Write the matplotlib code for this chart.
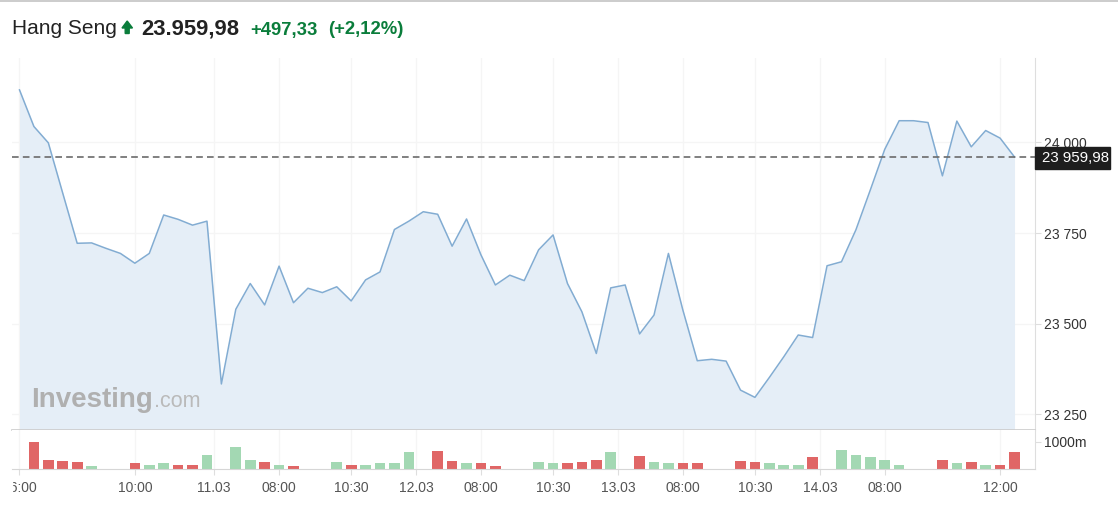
import numpy as np
import matplotlib.pyplot as plt
from matplotlib.patches import Rectangle, Polygon

plt.rcParams['font.family'] = ['Liberation Sans', 'DejaVu Sans']

# Hang Seng, 30-minute closes, 10.03 - 14.03
prices = [24145, 24044, 23999, 23860, 23722, 23723, 23708, 23694, 23667, 23694,
          23800, 23788, 23772, 23783, 23334, 23540, 23611, 23552, 23659, 23558,
          23598, 23586, 23602, 23563, 23621, 23643, 23760, 23783, 23809, 23802,
          23714, 23789, 23690, 23607, 23634, 23619, 23704, 23745, 23611, 23533,
          23418, 23599, 23607, 23472, 23524, 23694, 23538, 23398, 23402, 23397,
          23317, 23297, 23352, 23409, 23469, 23462, 23660, 23671, 23759, 23869,
          23981, 24060, 24060, 24055, 23908, 24059, 23988, 24033, 24012, 23959.98]
# volume in millions
volumes = [0, 995, 332, 295, 258, 111, 0, 0, 209, 147,
           209, 160, 160, 528, 0, 798, 344, 258, 147, 111,
           0, 0, 258, 160, 147, 209, 209, 626, 0, 663,
           307, 209, 209, 111, 0, 0, 258, 209, 209, 258,
           344, 626, 0, 479, 258, 209, 209, 209, 0, 0,
           295, 258, 209, 147, 147, 442, 0, 712, 528, 442,
           344, 160, 0, 0, 344, 209, 258, 147, 160, 626]

tick_pos = [0, 8, 13.5, 18, 23, 27.5, 32, 37, 41.5, 46, 51, 55.5, 60, 68]
tick_labels = ['06:00', '10:00', '11.03', '08:00', '10:30', '12.03', '08:00',
               '10:30', '13.03', '08:00', '10:30', '14.03', '08:00', '12:00']
price_ticks = [23250, 23500, 23750, 24000]
last_price = 23959.98
change = '+497,33'
change_pct = '(+2,12%)'

W, H = 1118, 512


def fx(px):
    return px / W


def fy(py):
    return 1 - py / H


line_c = '#82acd2'
fill_c = '#e5eef7'
red_c = '#e06666'
green_c = '#a3d8b3'
grid_c = '#f5f5f5'
axis_c = '#dedede'

fig = plt.figure(figsize=(W / 100, H / 100), dpi=100)
ax = fig.add_axes([fx(12), fy(430), fx(1035) - fx(12), (430 - 58) / H])
axv = fig.add_axes([fx(12), fy(469), fx(1035) - fx(12), (469 - 430) / H], sharex=ax)

x = np.arange(len(prices))
y_lo, y_hi = 23207, 24233
ax.fill_between(x, prices, y_lo, color=fill_c, lw=0, zorder=2)
ax.plot(x, prices, color=line_c, lw=1.1, zorder=3)
ax.axhline(last_price, color='#6b6b6b', lw=1.2, ls=(0, (4, 2.5)), zorder=4)

ax.set_xlim(-0.52, 70.42)
ax.set_ylim(y_lo, y_hi)
ax.yaxis.tick_right()
ax.set_yticks(price_ticks)
ax.set_yticklabels([f"{v:,}".replace(',', ' ') for v in price_ticks])
ax.set_xticks(tick_pos)
ax.tick_params(axis='x', length=0, labelbottom=False)
ax.tick_params(axis='y', length=4, color=axis_c, pad=2.5, labelsize=10, labelcolor='#333333')
ax.grid(color=grid_c, lw=1, zorder=0)
ax.set_axisbelow(True)
for s in ['top', 'left']:
    ax.spines[s].set_visible(False)
ax.spines['right'].set_color(axis_c)
ax.spines['bottom'].set_color('#cccccc')
ax.spines['bottom'].set_linewidth(1.2)

# volume panel
diff = np.diff(prices, prepend=prices[0])
bar_colors = [green_c if d >= 0 else red_c for d in diff]
axv.bar(x, volumes, width=0.74, color=bar_colors, zorder=2)
axv.set_ylim(0, 1444)
axv.yaxis.tick_right()
axv.set_yticks([1000])
axv.set_yticklabels(['1000m'])
axv.set_xticks(tick_pos)
axv.set_xticklabels(tick_labels)
axv.tick_params(axis='x', length=4, color=axis_c, pad=5, labelsize=10, labelcolor='#555555')
axv.tick_params(axis='y', length=4, color=axis_c, pad=2.5, labelsize=10, labelcolor='#333333')
axv.grid(axis='x', color=grid_c, lw=1, zorder=0)
axv.set_axisbelow(True)
for s in ['top', 'left']:
    axv.spines[s].set_visible(False)
axv.spines['right'].set_color(axis_c)
axv.spines['bottom'].set_color('#d6d6d6')

# clip first x label at chart edge
fig.patches.append(Rectangle((0, fy(505)), fx(12), (505 - 472) / H, transform=fig.transFigure,
                             color='white', zorder=10))

# last price tag
fig.patches.append(Rectangle((fx(1035), fy(168.5)), fx(1110) - fx(1035), (168.5 - 146.5) / H,
                             transform=fig.transFigure, color='#1e1e1e', zorder=10))
fig.text(fx(1042), fy(157.5), '23 959,98', color='white', fontsize=10.8, va='center', zorder=11)

# header
fig.text(fx(12), fy(34.5), 'Hang Seng', fontsize=15, color='#222222', va='baseline')
arrow = [(122, 28), (127.2, 21), (132.5, 28), (129.2, 28), (129.2, 33.5), (125.2, 33.5), (125.2, 28)]
fig.patches.append(Polygon([(fx(a), fy(b)) for a, b in arrow], closed=True,
                           transform=fig.transFigure, color='#0a7d3b'))
fig.text(fx(141), fy(34.5), '23.959,98', fontsize=15.8, fontweight='bold', color='#222222', va='baseline')
fig.text(fx(250), fy(34.5), change, fontsize=13.3, fontweight='bold', color='#0a7d3b', va='baseline')
fig.text(fx(328), fy(34.5), change_pct, fontsize=13.3, fontweight='bold', color='#0a7d3b', va='baseline')

# watermark
fig.text(fx(31), fy(407), 'Investing', fontsize=20, fontweight='bold', color='#b0b0b0', va='baseline', zorder=5)
fig.text(fx(154), fy(407), '.com', fontsize=15.5, color='#bababa', va='baseline', zorder=5)

# top border
fig.add_artist(plt.Line2D([0, 1], [fy(0.7), fy(0.7)], transform=fig.transFigure, color='#c4c4c4', lw=1.2))

fig.savefig('out.png', dpi=100)
